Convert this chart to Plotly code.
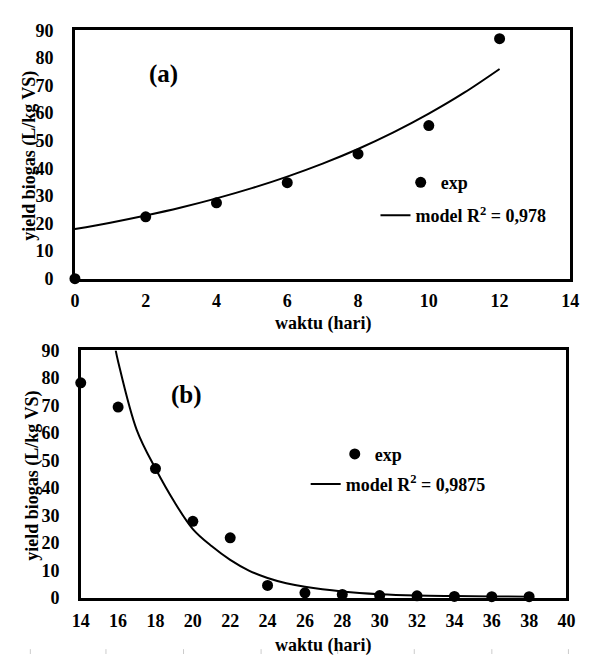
import plotly.graph_objects as go

W, H = 591, 664

# ---- data: panel (a) ----
a_days = [0, 2, 4, 6, 8, 10, 12]
a_yield = [0, 22.4, 27.5, 34.8, 45.2, 55.5, 87]
a_model_days = [0, 1, 2, 3, 4, 5, 6, 7, 8, 9, 10, 11, 12]
a_model_yield = [18, 20.3, 22.9, 25.8, 29.1, 32.8, 37, 41.7, 47, 53, 59.8, 67.4, 76]

# ---- data: panel (b) ----
b_days = [14, 16, 18, 20, 22, 24, 26, 28, 30, 32, 34, 36, 38]
b_yield = [78.2, 69.4, 47, 27.8, 21.8, 4.5, 1.8, 1.2, 0.8, 0.7, 0.5, 0.4, 0.4]
b_model_days = [15.87, 16, 17, 18, 19, 20, 21, 22, 23, 24, 25, 26, 28, 30, 32, 34, 36, 38]
b_model_yield = [90, 86, 61, 47, 35, 25, 18.8, 13.8, 9.9, 7.2, 5.3, 4, 2.3, 1.3, 0.8, 0.6, 0.45, 0.4]

a_xticks = [0, 2, 4, 6, 8, 10, 12, 14]
b_xticks = [14, 16, 18, 20, 22, 24, 26, 28, 30, 32, 34, 36, 38, 40]
yticks = [0, 10, 20, 30, 40, 50, 60, 70, 80, 90]

FONT = "Liberation Serif, Times New Roman, serif"
fs = 18


def px_x(p):
    return p / W


def px_y(p):
    return 1 - p / H


fig = go.Figure()
fig.add_trace(go.Scatter(x=a_days, y=a_yield, mode="markers", name="exp",
                         marker=dict(color="black", size=11), cliponaxis=False,
                         xaxis="x", yaxis="y", legend="legend", showlegend=True))
fig.add_trace(go.Scatter(x=a_model_days, y=a_model_yield, mode="lines",
                         name="model R<sup>2</sup> = 0,978",
                         line=dict(color="black", width=2, shape="spline"),
                         xaxis="x", yaxis="y", legend="legend2", showlegend=True))
fig.add_trace(go.Scatter(x=b_days, y=b_yield, mode="markers", name="exp",
                         marker=dict(color="black", size=11), cliponaxis=False,
                         xaxis="x2", yaxis="y2", legend="legend3", showlegend=True))
fig.add_trace(go.Scatter(x=b_model_days, y=b_model_yield, mode="lines",
                         name="model R<sup>2</sup> = 0,9875",
                         line=dict(color="black", width=2, shape="spline"),
                         xaxis="x2", yaxis="y2", legend="legend4", showlegend=True))

tickfont = dict(family=FONT, size=fs, color="black", weight="bold")
common = dict(showline=True, linecolor="black", linewidth=2.5, mirror=True,
              showgrid=False, zeroline=False, ticks="", tickfont=tickfont)

fig.update_layout(
    width=W, height=H,
    showlegend=True,
    margin=dict(l=0, r=0, t=0, b=0),
    paper_bgcolor="white", plot_bgcolor="white",
    font=dict(family=FONT, size=fs, color="black", weight="bold"),
    xaxis=dict(domain=[px_x(68), px_x(579)], range=[0, 14], tickvals=a_xticks,
               anchor="y", ticklabelstandoff=4, **common),
    yaxis=dict(domain=[px_y(277), px_y(21)], range=[0, 90], tickvals=yticks,
               anchor="x", ticklabelstandoff=15, **common),
    xaxis2=dict(domain=[px_x(74), px_x(575)], range=[14, 40], tickvals=b_xticks,
                anchor="y2", ticklabelstandoff=5, **common),
    yaxis2=dict(domain=[px_y(606), px_y(351)], range=[0, 90], tickvals=yticks,
                anchor="x2", ticklabelstandoff=15, **common),
)

leg_common = dict(xanchor="left", yanchor="middle", bgcolor="rgba(0,0,0,0)",
                  borderwidth=0, font=dict(family=FONT, size=fs, color="black", weight="bold"))
fig.update_layout(
    legend=dict(x=px_x(404), y=px_y(178), **leg_common),
    legend2=dict(x=px_x(378), y=px_y(212), **leg_common),
    legend3=dict(x=px_x(336), y=px_y(458), **leg_common),
    legend4=dict(x=px_x(306), y=px_y(489), **leg_common),
)

ann = []
ann.append(dict(text="(a)", x=px_x(159), y=px_y(66), font=dict(size=25)))
ann.append(dict(text="(b)", x=px_x(183), y=px_y(397), font=dict(size=25)))
ann.append(dict(text="waktu (hari)", x=px_x(324), y=px_y(323)))
ann.append(dict(text="waktu (hari)", x=px_x(324), y=px_y(655)))
ann.append(dict(text="yield biogas (L/kg VS)", x=px_x(21), y=px_y(150), textangle=-90))
ann.append(dict(text="yield biogas (L/kg VS)", x=px_x(24), y=px_y(480), textangle=-90))
for a in ann:
    a.update(xref="paper", yref="paper", showarrow=False, xanchor="center", yanchor="middle")
fig.update_layout(annotations=ann)

# faint tick marks along the bottom edge of the page (table artefact in the original)
for gx in [22, 100, 180, 260, 339, 418, 498, 577]:
    fig.add_shape(type="line", xref="paper", yref="paper", x0=px_x(gx), x1=px_x(gx),
                  y0=0, y1=px_y(659), line=dict(color="#cccccc", width=1))

fig.write_html("out.html",
               config={"displayModeBar": False},
               post_script="document.documentElement.style.margin='0';"
                           "document.body.style.margin='0';"
                           "document.body.style.overflow='hidden';")
